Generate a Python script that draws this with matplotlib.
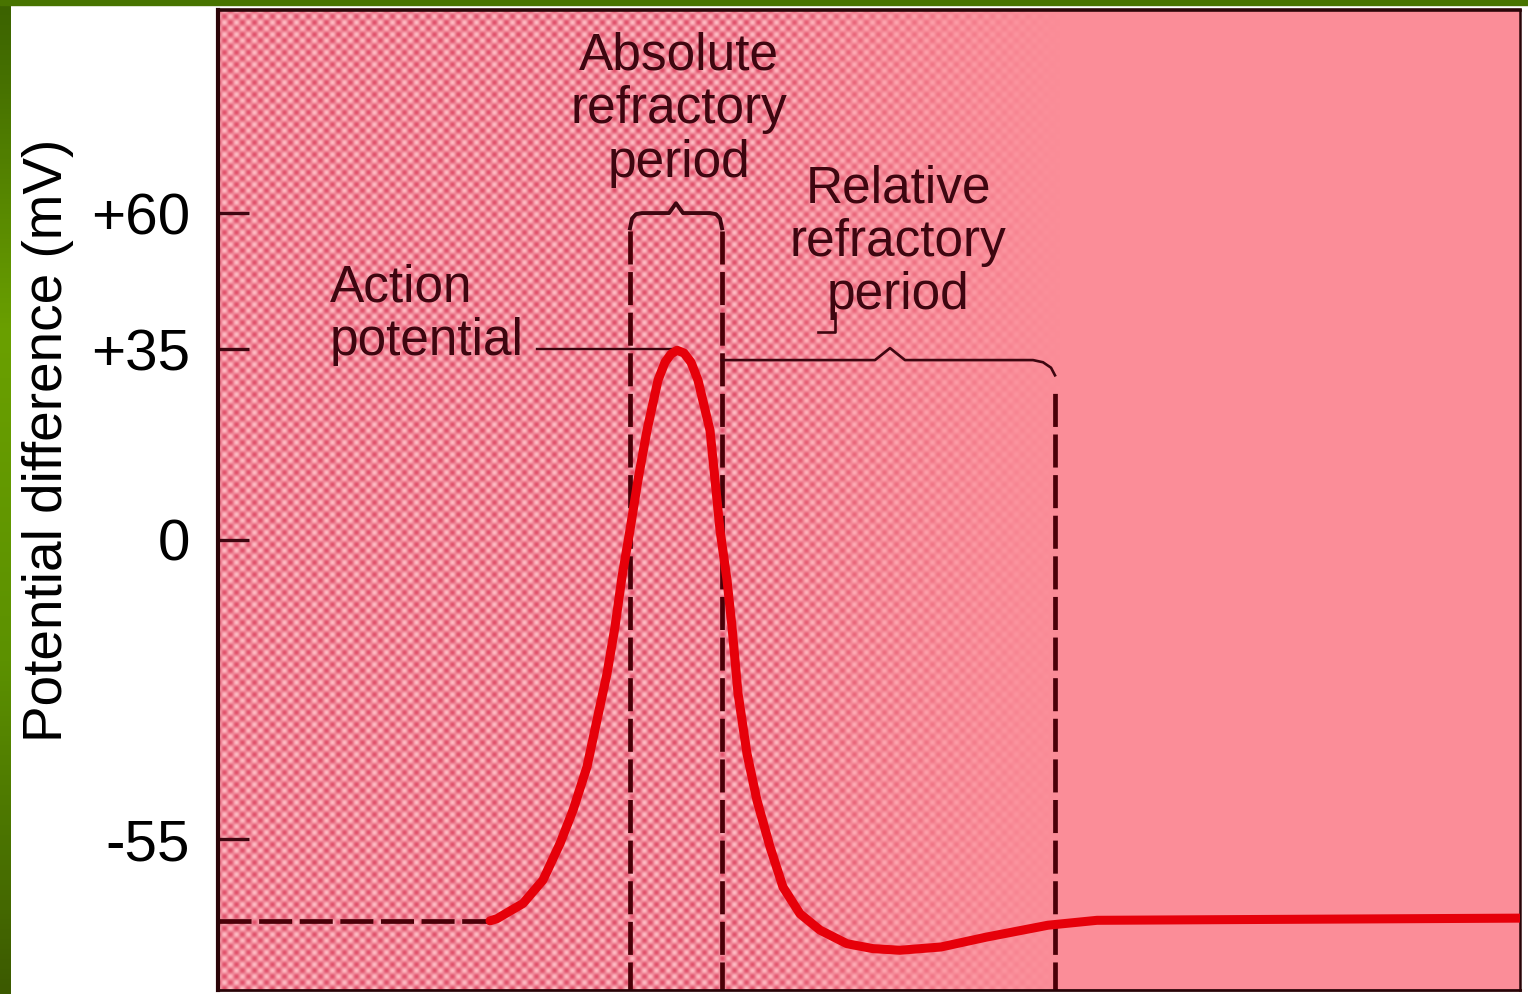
import numpy as np
import matplotlib
matplotlib.use('Agg')
import matplotlib.pyplot as plt
from matplotlib.patches import Rectangle

# membrane potential trace, time in ms, potential in mV
t_rise = [2.72, 2.79, 3.05, 3.25, 3.42, 3.55, 3.69, 3.79, 3.89, 3.97, 4.04,
          4.12, 4.20, 4.29, 4.40, 4.47, 4.53, 4.59]
v_rise = [-70, -69.6, -66.8, -62.5, -55.8, -49.7, -41.7, -33.1, -24.6, -16.0, -6.8,
          1.8, 11.0, 20.1, 29.3, 32.6, 34.1, 34.8]
t_fall = [4.66, 4.73, 4.80, 4.92, 4.97, 5.02, 5.09, 5.14, 5.20, 5.29, 5.39, 5.52,
          5.65, 5.82, 6.02, 6.29, 6.55, 6.82, 7.23, 7.68, 8.30, 8.79, 13.02]
v_fall = [34.3, 32.6, 29.3, 20.1, 11.0, 1.8, -7.4, -16.0, -28.2, -39.3, -47.9, -56.4,
          -63.8, -68.7, -71.7, -74.2, -75.1, -75.4, -74.8, -73.0, -70.8, -69.9, -69.5]

v_rest = -70
v_peak = 35
t_start = 2.72
t_peak = 4.59
abs_start, abs_end = 4.12, 5.04
rel_end = 8.37

yticks = [60, 35, 0, -55]
ytick_labels = ['+60', '+35', '0', '-55']

t_all = t_rise + t_fall
v_all = v_rise + v_fall

ink = '#3e0610'
dash_ink = '#4a0008'
dash = (0, (7, 1.6))
fonts = ['Liberation Sans', 'DejaVu Sans']

fig = plt.figure(figsize=(15.28, 9.94), dpi=100)
fig.patch.set_facecolor('white')
ax = fig.add_axes([218 / 1528, 4 / 994, 1302 / 1528, 980 / 994])

# halftone pink background, fading out to the right
h, w = 980, 1302
yy, xx = np.mgrid[0:h, 0:w]
dots = 0.5 + 0.5 * np.cos(2 * np.pi * xx / 12) * np.cos(2 * np.pi * yy / 12)
fade = np.clip((1060 - (xx + 218)) / 320.0, 0, 1)[..., None]
plain = np.array([251, 141, 152]) / 255
light = np.array([255, 188, 196]) / 255
dark = np.array([224, 80, 106]) / 255
img = plain * (1 - fade) + fade * (dark * dots[..., None] + light * (1 - dots[..., None]))
ax.imshow(img, extent=[0, 1, 0, 1], transform=ax.transAxes, aspect='auto',
          interpolation='bilinear', zorder=0)

# resting potential and refractory markers
ax.plot([0, t_start], [v_rest, v_rest], color=dash_ink, lw=3.4, linestyle=dash, zorder=2)
ax.plot([abs_start, abs_start], [-90, 57.2], color=dash_ink, lw=3.4, linestyle=dash, zorder=2)
ax.plot([abs_end, abs_end], [-90, 57.2], color=dash_ink, lw=3.4, linestyle=dash, zorder=2)
ax.plot([rel_end, rel_end], [-90, 28.0], color=dash_ink, lw=3.4, linestyle=dash, zorder=2)

# brace over absolute refractory period
mid_abs = (abs_start + abs_end) / 2
bx = [abs_start, abs_start + 0.02, abs_start + 0.06, abs_start + 0.12,
      mid_abs - 0.07, mid_abs, mid_abs + 0.07,
      abs_end - 0.12, abs_end - 0.06, abs_end - 0.02, abs_end]
by = [57.2, 59.0, 59.8, 60.0, 60.0, 61.8, 60.0, 60.0, 59.8, 59.0, 57.2]
ax.plot(bx, by, color=ink, lw=2.8, zorder=3, solid_joinstyle='round')

# brace over relative refractory period
t_brace = 6.72
rx = [abs_end, t_brace - 0.15, t_brace, t_brace + 0.15, rel_end - 0.22, rel_end - 0.12, rel_end - 0.04, rel_end]
ry = [33.0, 33.0, 35.2, 33.0, 33.0, 32.6, 31.6, 30.2]
ax.plot(rx, ry, color=ink, lw=1.9, zorder=3, solid_joinstyle='round')
ax.plot([6.17, 6.17, 6.00], [41.6, 38.1, 38.1], color=ink, lw=1.9, zorder=3)

# leader from label to the peak
ax.plot([3.19, t_peak], [v_peak, v_peak], color=ink, lw=1.7, zorder=3)

# the action potential
ax.plot(t_all, v_all, color='#e6000a', lw=6.5, zorder=4,
        solid_joinstyle='round', solid_capstyle='round')

txt = dict(color=ink, fontsize=37, family=fonts, linespacing=1.12, zorder=5)
ax.text(1.12, 50.8, 'Action\npotential', ha='left', va='top', **txt)
ax.text(4.61, 93.3, 'Absolute\nrefractory\nperiod', ha='center', va='top', **txt)
ax.text(6.80, 69.0, 'Relative\nrefractory\nperiod', ha='center', va='top', **txt)

ax.set_xlim(0, 13.02)
ax.set_ylim(-82.7, 97.3)
ax.set_xticks([])
ax.set_yticks(yticks)
ax.set_yticklabels(ytick_labels, family=fonts, fontsize=42)
ax.tick_params(axis='y', direction='in', length=22, width=2.4, color=ink, pad=20)

for side, lw in [('left', 3.0), ('top', 2.6), ('right', 1.8), ('bottom', 2.0)]:
    ax.spines[side].set_color('#2a0508')
    ax.spines[side].set_linewidth(lw)

fig.text(48 / 1528, 1 - 440 / 994, 'Potential difference (mV)', rotation=90,
         ha='center', va='center', fontsize=39.5, color='black', family=fonts)

# green frame on the left and top
gax = fig.add_axes([0, 0, 11 / 1528, 1])
stops = np.array([[59, 98, 0], [106, 160, 0], [92, 145, 0], [60, 90, 0]]) / 255
grad = np.array([np.interp(np.linspace(0, 1, 200), np.linspace(0, 1, len(stops)), stops[:, c])
                 for c in range(3)]).T[:, None, :]
gax.imshow(grad, aspect='auto', extent=[0, 1, 0, 1])
gax.axis('off')
fig.add_artist(Rectangle((0, 1 - 5 / 994), 1, 5 / 994, transform=fig.transFigure,
                         color='#487400', zorder=10))

fig.savefig('out.png', dpi=100)
